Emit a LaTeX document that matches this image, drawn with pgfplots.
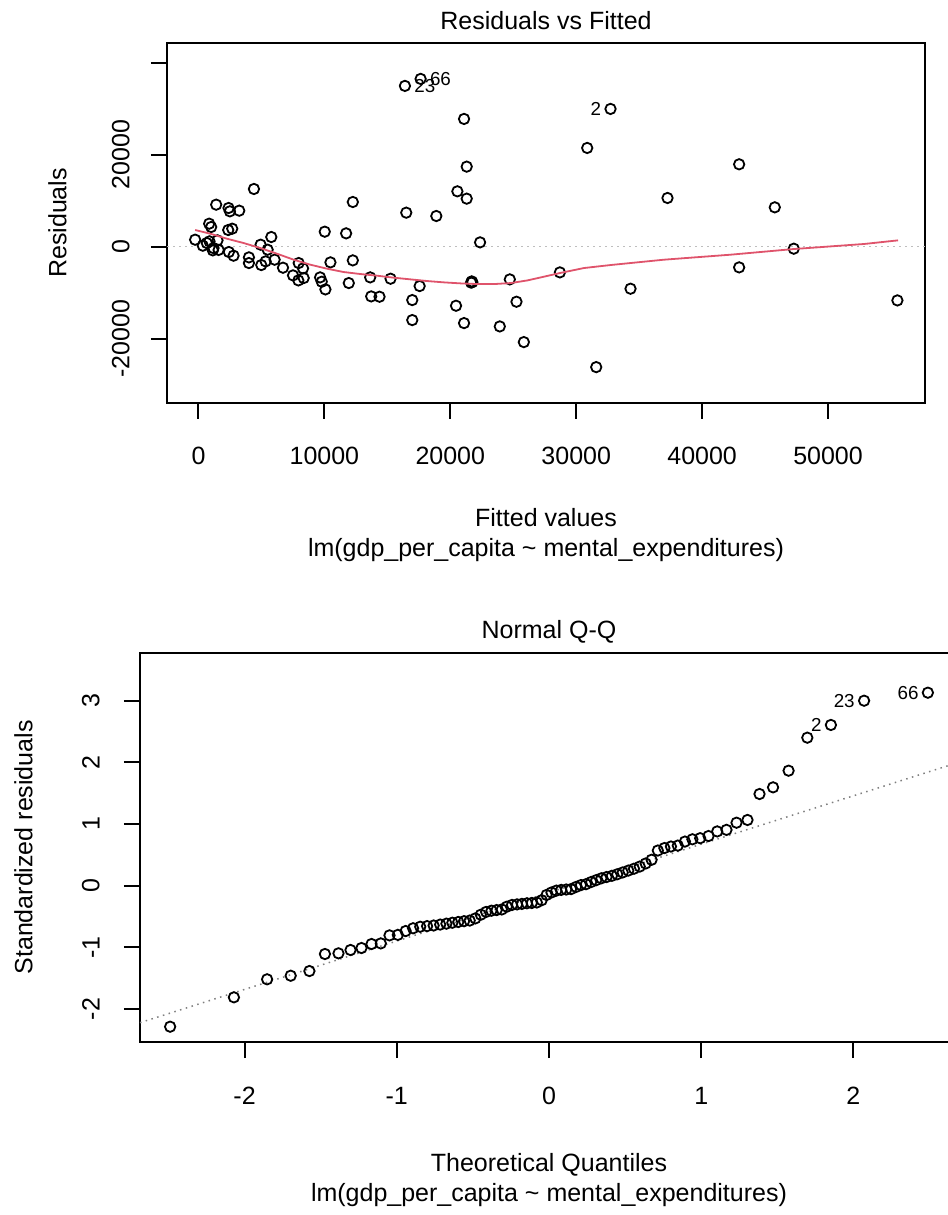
\documentclass[border=0pt]{standalone}
\usepackage{fontspec}
\setmainfont{Liberation Sans}
\usepackage{pgfplots}
\pgfplotsset{compat=1.18}

\definecolor{rred}{HTML}{DF536B}
\definecolor{rgray}{HTML}{BEBEBE}
\definecolor{rgrayd}{HTML}{7F7F7F}
\newcommand{\rfont}{\fontsize{12.5bp}{15bp}\selectfont}
\newcommand{\idfont}{\fontsize{9.4bp}{11bp}\selectfont}

\pgfplotsset{
  rbase/.style={
    scale only axis,
    scaled ticks=false,
    clip mode=individual,
    axis line style={line width=1bp},
    tick align=outside,
    major tick length=8bp,
    tick style={line width=1bp, black},
    xtick pos=left, ytick pos=left,
    tick label style={font=\rfont},
    label style={font=\rfont},
    title style={font=\rfont, at={(axis description cs:0.5,1)}, anchor=base, yshift=1bp},
    xticklabel style={anchor=base, yshift=-23bp},
    xlabel style={at={(axis description cs:0.5,0)}, anchor=base, yshift=-64.5bp},
  },
  rpt/.style={only marks, mark=o, mark size=2.6bp, mark options={line width=0.9bp, black}},
}

% residuals vs fitted (fitted, residual)
\pgfplotstableread{
x y
-265 1520
345 217
875 1160
1141 -797
1512 1377
849 5000
1008 4275
1406 9130
2388 8405
2494 7681
3237 7826
2361 3623
2680 3913
2414 -1159
2786 -1956
1600 -700
4404 12536
4006 -2319
4006 -3550
4935 435
4988 -3985
5492 -652
5784 2101
5333 -3188
6049 -2826
6712 -4565
7959 -3550
7508 -6232
8304 -4710
7932 -7319
8357 -6811
9657 -6666
9790 -7608
10081 -9275
10028 3261
10480 -3406
11726 2898
12257 9710
12257 -2971
11938 -7898
13636 -6666
13716 -10797
14379 -10869
15255 -6956
16502 7391
16396 34926
17643 36448
16979 -11594
16979 -15941
17563 -8550
18889 6666
21091 27752
21303 17390
20561 12028
21303 10434
22364 942
20455 -12826
21091 -16594
21701 -7536
21750 -7700
21650 -7800
23930 -17318
24726 -7101
25256 -11956
25840 -20723
32725 29926
30873 21449
31588 -26158
28703 -5580
34313 -9130
37250 10579
42939 17898
42939 -4493
45770 8550
47278 -435
55508 -11666
663 797
1194 -300
}\resid

% smoother
\pgfplotstableread{
x y
-265 3623
929 2826
2255 1739
3582 797
4908 -290
6235 -1522
7561 -2826
8888 -3913
10214 -4782
11540 -5507
12867 -5942
14193 -6304
15520 -6739
16847 -7101
18173 -7463
19500 -7753
20826 -7971
22152 -8115
23479 -8115
24805 -7898
26132 -7319
27193 -6666
28703 -5724
30608 -4637
32725 -3985
36958 -2826
42250 -1739
47278 -507
52834 580
55560 1377
}\smooth

% normal Q-Q (theoretical, standardized residual)
\pgfplotstableread{
x y
-2.489 -2.285
-2.070 -1.809
-1.852 -1.517
-1.697 -1.459
-1.574 -1.383
-1.472 -1.107
-1.383 -1.096
-1.304 -1.042
-1.232 -1.010
-1.166 -0.945
-1.105 -0.935
-1.048 -0.805
-0.993 -0.797
-0.942 -0.735
-0.893 -0.690
-0.846 -0.665
-0.801 -0.655
-0.758 -0.645
-0.715 -0.630
-0.674 -0.615
-0.635 -0.600
-0.596 -0.588
-0.558 -0.575
-0.521 -0.565
-0.484 -0.530
-0.448 -0.470
-0.413 -0.425
-0.378 -0.405
-0.344 -0.395
-0.310 -0.385
-0.277 -0.340
-0.243 -0.312
-0.210 -0.303
-0.178 -0.295
-0.145 -0.285
-0.113 -0.280
-0.080 -0.272
-0.048 -0.235
-0.016 -0.150
0.016 -0.110
0.048 -0.080
0.080 -0.068
0.113 -0.062
0.145 -0.055
0.178 -0.020
0.210 0.010
0.243 0.025
0.277 0.060
0.310 0.090
0.344 0.120
0.378 0.140
0.413 0.160
0.448 0.185
0.484 0.215
0.521 0.245
0.558 0.275
0.596 0.310
0.635 0.360
0.674 0.420
0.715 0.570
0.758 0.610
0.801 0.635
0.846 0.650
0.893 0.715
0.942 0.752
0.993 0.770
1.048 0.805
1.105 0.880
1.166 0.905
1.232 1.021
1.304 1.065
1.383 1.486
1.472 1.594
1.574 1.864
1.697 2.399
1.852 2.605
2.070 2.998
2.489 3.128
}\qq

\begin{document}
\begin{tikzpicture}

\begin{axis}[rbase,
  at={(83.5bp,406bp)}, anchor=south west,
  width=379bp, height=180bp,
  xmin=-2500, xmax=57700, ymin=-33950, ymax=44250,
  xtick={0,10000,20000,30000,40000,50000},
  xticklabels={0,10000,20000,30000,40000,50000},
  ytick={-20000,0,20000,40000},
  yticklabels={-20000,0,20000,{}},
  yticklabel style={rotate=90, anchor=south, inner xsep=0pt, inner ysep=10.5bp},
  ylabel={Residuals},
  ylabel style={at={(axis description cs:0,0.5)}, anchor=south, inner xsep=0pt, inner ysep=50bp},
  title={Residuals vs Fitted},
  xlabel={Fitted values},
  xlabel style={yshift=2.5bp},
]
\addplot[rgray, line width=0.75bp, dash pattern=on 0.75bp off 2.25bp] coordinates {(-2500,0) (57700,0)};
\addplot[rpt] table {\resid};
\addplot[rred, line width=0.9bp] table {\smooth};
\node[font=\idfont, anchor=west, inner sep=0pt, xshift=4.5bp] at (axis cs:16396,34926) {23};
\node[font=\idfont, anchor=west, inner sep=0pt, xshift=4.5bp] at (axis cs:17643,36448) {66};
\node[font=\idfont, anchor=east, inner sep=0pt, xshift=-4.5bp] at (axis cs:32725,29926) {2};
\node[font=\rfont, anchor=base, yshift=-77bp] at (rel axis cs:0.5,0) {lm(gdp\_per\_capita \textasciitilde{} mental\_expenditures)};
\end{axis}

\begin{axis}[rbase,
  at={(70bp,86.5bp)}, anchor=south west,
  width=409bp, height=194.65bp,
  xmin=-2.687, xmax=2.687, ymin=-2.533, ymax=3.776,
  xtick={-2,-1,0,1,2},
  xticklabels={-2,-1,0,1,2},
  ytick={-2,-1,0,1,2,3},
  yticklabels={-2,-1,0,1,2,3},
  yticklabel style={rotate=90, anchor=south, inner xsep=0pt, inner ysep=12bp},
  ylabel={Standardized residuals},
  ylabel style={at={(axis description cs:0,0.5)}, anchor=south, inner xsep=0pt, inner ysep=53.5bp},
  title={Normal Q-Q},
  xlabel={Theoretical Quantiles},
]
\addplot[rgrayd, line width=0.75bp, dash pattern=on 0.75bp off 2.25bp] coordinates {(-2.687,-2.220) (2.687,1.996)};
\addplot[rpt] table {\qq};
\node[font=\idfont, anchor=east, inner sep=0pt, xshift=-4.5bp] at (axis cs:2.489,3.128) {66};
\node[font=\idfont, anchor=east, inner sep=0pt, xshift=-4.5bp] at (axis cs:2.070,2.998) {23};
\node[font=\idfont, anchor=east, inner sep=0pt, xshift=-4.5bp] at (axis cs:1.852,2.605) {2};
\node[font=\rfont, anchor=base, yshift=-79.5bp] at (rel axis cs:0.5,0) {lm(gdp\_per\_capita \textasciitilde{} mental\_expenditures)};
\end{axis}

\pgfresetboundingbox
\path[use as bounding box] (0bp,0bp) rectangle (474bp,607.5bp);
\end{tikzpicture}
\end{document}
